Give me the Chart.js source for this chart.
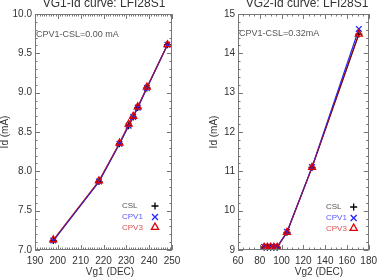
<!DOCTYPE html>
<html><head><meta charset="utf-8">
<script src="https://cdn.jsdelivr.net/npm/chart.js@4"></script>
<style>
html,body{margin:0;padding:0;background:#fff;}
#wrap{position:relative;width:382px;height:278px;overflow:hidden;font-family:"Liberation Sans",Arial,sans-serif;color:#333;}
canvas{position:absolute;top:0;}
.t{position:absolute;white-space:nowrap;line-height:1;}
.c{transform:translateX(-50%);}
.r{transform:translate(-50%,-50%) rotate(-90deg);font-size:10px;}
.lg{font-size:8px;}
</style></head><body>
<div id="wrap">
<canvas id="c1" width="191" height="278" style="left:0;width:191px;height:278px"></canvas>
<canvas id="c2" width="191" height="278" style="left:191px;width:191px;height:278px"></canvas>
<div class="t c" style="left:104px;top:-3px;font-size:12px;color:#333">VG1-Id curve: LFI28S1</div>
<div class="t c" style="left:307px;top:-3px;font-size:12px;color:#333">VG2-Id curve: LFI28S1</div>
<div class="t" style="left:36px;top:29.5px;font-size:9px;color:#555">CPV1-CSL=0.00 mA</div>
<div class="t" style="left:239px;top:28.5px;font-size:9px;color:#555">CPV1-CSL=0.32mA</div>
<div class="t r" style="left:5px;top:132px;">Id (mA)</div>
<div class="t r" style="left:214px;top:132px;">Id (mA)</div>
<div class="t c" style="left:110px;top:267px;font-size:10px">Vg1 (DEC)</div>
<div class="t c" style="left:319px;top:267px;font-size:10px">Vg2 (DEC)</div>
<div class="t lg" style="left:122px;top:201.5px;color:#555">CSL</div>
<div class="t lg" style="left:122px;top:212.5px;color:#5a5aff">CPV1</div>
<div class="t lg" style="left:122px;top:223.5px;color:#e05050">CPV3</div>
<div class="t lg" style="left:326px;top:202.5px;color:#555">CSL</div>
<div class="t lg" style="left:326px;top:213.5px;color:#5a5aff">CPV1</div>
<div class="t lg" style="left:326px;top:224.5px;color:#e05050">CPV3</div>
</div>
<script>
// ---- data ----
const vg1 = [198, 218, 227, 231, 233, 235, 239, 248];
const vg1_csl  = [7.12, 7.87, 8.35, 8.58, 8.69, 8.81, 9.06, 9.61];
const vg1_cpv1 = [7.12, 7.87, 8.35, 8.58, 8.69, 8.81, 9.06, 9.61];
const vg1_cpv3 = [7.13, 7.88, 8.36, 8.60, 8.70, 8.82, 9.07, 9.61];
const vg2 = [84, 87, 90, 93, 96, 105, 128, 171];
const vg2_csl  = [9.07, 9.07, 9.07, 9.07, 9.07, 9.45, 11.10, 14.49];
const vg2_cpv1 = [9.08, 9.08, 9.08, 9.08, 9.08, 9.46, 11.11, 14.62];
const vg2_cpv3 = [9.07, 9.07, 9.07, 9.07, 9.07, 9.45, 11.10, 14.49];
const vg1Ticks = [190, 200, 210, 220, 230, 240, 250];
const vg2Ticks = [60, 80, 100, 120, 140, 160, 180];

const FONT = '"Liberation Sans", Arial, sans-serif';

function marker(ctx, style, x, y, r, color){
  ctx.save();
  ctx.strokeStyle = color; ctx.lineWidth = 1.3;
  ctx.beginPath();
  if (style === 'cross'){
    ctx.moveTo(x - r, y); ctx.lineTo(x + r, y);
    ctx.moveTo(x, y - r); ctx.lineTo(x, y + r);
  } else if (style === 'crossRot'){
    const d = r * 0.75;
    ctx.moveTo(x - d, y - d); ctx.lineTo(x + d, y + d);
    ctx.moveTo(x + d, y - d); ctx.lineTo(x - d, y + d);
  } else {
    ctx.moveTo(x, y - r); ctx.lineTo(x + r * 0.9, y + r * 0.6);
    ctx.lineTo(x - r * 0.9, y + r * 0.6); ctx.closePath();
  }
  ctx.stroke();
  ctx.restore();
}

const frame = {
  id: 'frame',
  afterDraw(chart, args, o){
    const {ctx, chartArea: a} = chart;
    const sx = chart.scales.x, sy = chart.scales.y;
    ctx.save();
    ctx.strokeStyle = '#777'; ctx.lineWidth = 1;
    ctx.strokeRect(Math.round(a.left) + 0.5, Math.round(a.top) + 0.5,
                   Math.round(a.right - a.left) - 1, Math.round(a.bottom - a.top) - 1);
    ctx.beginPath();
    let n = Math.round((sx.max - sx.min) / o.xMinor);
    for (let i = 0; i <= n; i++){
      const v = sx.min + i * o.xMinor;
      const L = (i % o.xEvery === 0) ? 5 : 2.5;
      const px = Math.round(sx.getPixelForValue(v)) + 0.5;
      ctx.moveTo(px, a.bottom); ctx.lineTo(px, a.bottom - L);
      ctx.moveTo(px, a.top); ctx.lineTo(px, a.top + L);
    }
    n = Math.round((sy.max - sy.min) / o.yMinor);
    for (let i = 0; i <= n; i++){
      const v = sy.min + i * o.yMinor;
      const L = (i % o.yEvery === 0) ? 5 : 2.5;
      const py = Math.round(sy.getPixelForValue(v)) + 0.5;
      ctx.moveTo(a.left, py); ctx.lineTo(a.left + L, py);
      ctx.moveTo(a.right, py); ctx.lineTo(a.right - L, py);
    }
    ctx.stroke();
    ctx.restore();
    // legend symbols
    const lx = a.right - o.legDx;
    marker(ctx, 'cross', lx, a.bottom - o.legY[0], 3.5, '#000');
    marker(ctx, 'crossRot', lx, a.bottom - o.legY[1], 4, '#2222ff');
    marker(ctx, 'triangle', lx, a.bottom - o.legY[2], 4, '#dd0000');
  }
};

function ds(label, xs, ys, line, pcolor, style, r, order){
  return {
    label: label,
    data: xs.map((x, i) => ({x: x, y: ys[i]})),
    showLine: true,
    order: order,
    borderColor: line,
    borderWidth: 1.2,
    pointStyle: style,
    pointRadius: r,
    pointBorderColor: pcolor,
    pointBackgroundColor: 'rgba(0,0,0,0)',
    pointBorderWidth: 1.3,
    clip: false
  };
}

function makeChart(id, xs, csl, cpv1, cpv3, xTicks, yMin, yMax, yStep, yDec, cfg){
  new Chart(document.getElementById(id), {
    type: 'scatter',
    data: {datasets: [
      ds('CSL', xs, csl, '#000000', '#000000', 'cross', 3.5, 3),
      ds('CPV1', xs, cpv1, '#2a2aff', '#2222ff', 'crossRot', 4, 2),
      ds('CPV3', xs, cpv3, 'rgba(215,0,0,0.6)', '#dd0000', 'triangle', 4, 1)
    ]},
    options: {
      responsive: false, animation: false,
      layout: {padding: {left: 0, right: cfg.padR, top: 14, bottom: 0}},
      plugins: {legend: {display: false}, tooltip: {enabled: false}, title: {display: false}, frame: cfg.frame},
      scales: {
        x: {
          type: 'linear', min: xTicks[0], max: xTicks[xTicks.length - 1],
          grid: {display: false, drawTicks: false}, border: {display: false},
          afterBuildTicks: s => { s.ticks = xTicks.map(v => ({value: v})); },
          ticks: {color: '#333', font: {size: 10, family: FONT}, padding: 5, maxRotation: 0, autoSkip: false},
          afterFit: s => { s.height = 28; }
        },
        y: {
          type: 'linear', min: yMin, max: yMax,
          grid: {display: false, drawTicks: false}, border: {display: false},
          ticks: {stepSize: yStep, color: '#333', font: {size: 10, family: FONT}, padding: 3,
                  callback: v => Number(v).toFixed(yDec)},
          afterFit: s => { s.width = cfg.yW; }
        }
      }
    },
    plugins: [frame]
  });
}

makeChart('c1', vg1, vg1_csl, vg1_cpv1, vg1_cpv3, vg1Ticks, 7, 10, 0.5, 1,
  {padR: 19, yW: 35, frame: {xMinor: 1, xEvery: 10, yMinor: 0.1, yEvery: 5, legDx: 17, legY: [44, 33, 23]}});
makeChart('c2', vg2, vg2_csl, vg2_cpv1, vg2_cpv3, vg2Ticks, 9, 15, 1, 0,
  {padR: 8, yW: 47, frame: {xMinor: 5, xEvery: 4, yMinor: 0.2, yEvery: 5, legDx: 15, legY: [43, 32, 22]}});
</script>
</body></html>
